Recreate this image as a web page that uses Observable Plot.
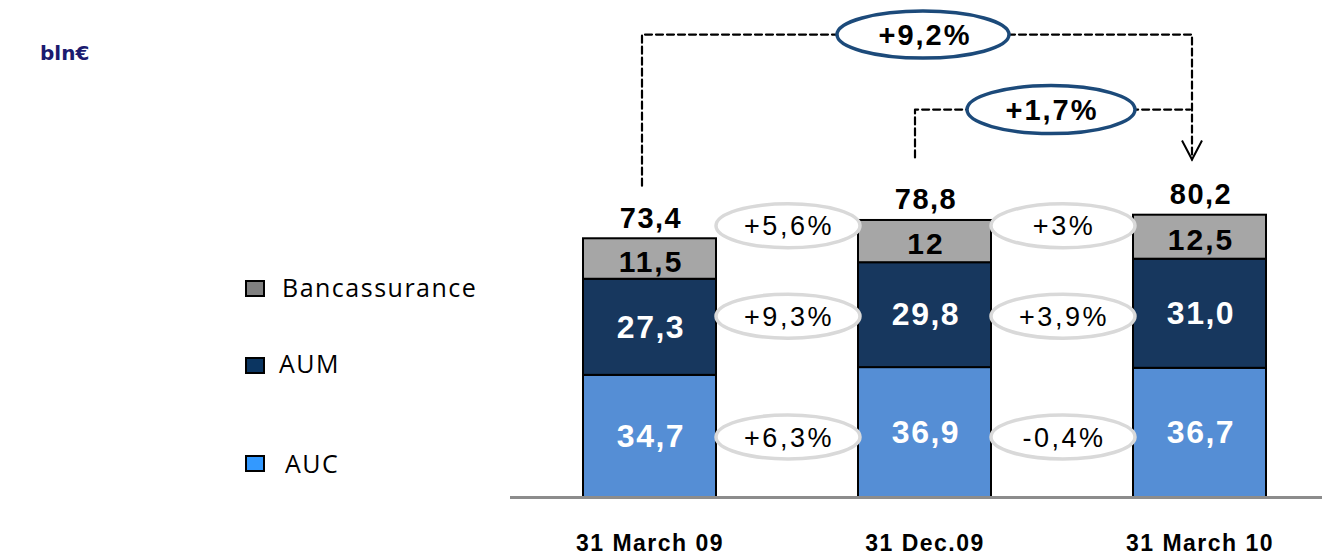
<!DOCTYPE html>
<html><head><meta charset="utf-8">
<script src="https://cdn.jsdelivr.net/npm/d3@7"></script>
<script src="https://cdn.jsdelivr.net/npm/@observablehq/plot@0.6"></script>
<style>
body{margin:0;background:#fff;}
#wrap{position:relative;width:1322px;height:555px;overflow:hidden;}
.leg{position:absolute;font-family:"Open Sans",sans-serif;font-size:25px;line-height:25px;letter-spacing:1.5px;color:#000;white-space:nowrap}
.sw{position:absolute;box-sizing:border-box;width:20px;height:17px;border:2px solid #000;}
#unit{position:absolute;left:40px;top:43px;font-family:"DejaVu Sans",sans-serif;font-weight:bold;font-size:20px;line-height:20px;color:#1b1b6f;white-space:nowrap}
</style></head><body><div id="wrap"></div>
<script>
// ---- data ----
const dates = ["31 March 09", "31 Dec.09", "31 March 10"];
const series = ["AUC", "AUM", "Bancassurance"];
const auc = [34.7, 36.9, 36.7];
const aum = [27.3, 29.8, 31.0];
const banc = [11.5, 12.0, 12.5];
const aucLabels = ["34,7", "36,9", "36,7"];
const aumLabels = ["27,3", "29,8", "31,0"];
const bancLabels = ["11,5", "12", "12,5"];
const totals = [73.4, 78.8, 80.2];
const totalLabels = ["73,4", "78,8", "80,2"];
const growthBanc = ["+5,6%", "+3%"];
const growthAum = ["+9,3%", "+3,9%"];
const growthAuc = ["+6,3%", "-0,4%"];
const growthYear = "+9,2%";   // 31 March 09 -> 31 March 10
const growthQuarter = "+1,7%"; // 31 Dec.09 -> 31 March 10
const colors = ["#558ed5", "#17375e", "#a6a6a6"];
const legendColors = ["#3399ff", "#0b3561", "#808080"];

// ---- tables built from the arrays ----
const rows = [];
dates.forEach((d, i) => {
  rows.push({date: d, series: "AUC", value: auc[i], label: aucLabels[i]});
  rows.push({date: d, series: "AUM", value: aum[i], label: aumLabels[i]});
  rows.push({date: d, series: "Bancassurance", value: banc[i], label: bancLabels[i]});
});
const totalRows = dates.map((d, i) => ({date: d, total: totals[i], label: totalLabels[i]}));

// annotation anchors (in value units)
const rowY = {Bancassurance: 77.2, AUM: 51.5, AUC: 17.2};
const growthRows = [];
[growthBanc, growthAum, growthAuc].forEach((arr, k) => {
  const s = ["Bancassurance", "AUM", "AUC"][k];
  arr.forEach((g, i) => growthRows.push({date: dates[i], y: rowY[s], label: g}));
});
const levelA = 131.5, levelB = 110.2, startA = 88.6, startB = 96.6, tipY = 96.0;
const bracketA = [
  {x: dates[0], y: startA}, {x: dates[0], y: levelA},
  {x: dates[2], y: levelA}, {x: dates[2], y: tipY}
];
const bracketB = [
  {x: dates[1], y: startB}, {x: dates[1], y: levelB}, {x: dates[2], y: levelB}
];

function ellipse(rx, ry) {
  return {draw(ctx) {
    const k = 0.5522848;
    ctx.moveTo(rx, 0);
    ctx.bezierCurveTo(rx, ry * k, rx * k, ry, 0, ry);
    ctx.bezierCurveTo(-rx * k, ry, -rx, ry * k, -rx, 0);
    ctx.bezierCurveTo(-rx, -ry * k, -rx * k, -ry, 0, -ry);
    ctx.bezierCurveTo(rx * k, -ry, rx, -ry * k, rx, 0);
    ctx.closePath();
  }};
}
const vArrow = {draw(ctx) { ctx.moveTo(-10, -19); ctx.lineTo(0, 0); ctx.lineTo(10, -19); }};

const font = "Liberation Sans, Arial, sans-serif";
const plot = Plot.plot({
  width: 1322,
  height: 555,
  marginLeft: 510,
  marginRight: 0,
  marginTop: 0,
  marginBottom: 58,
  style: {fontFamily: font, background: "transparent", overflow: "visible"},
  x: {type: "band", domain: dates, range: [582, 1267], paddingInner: 0.518, paddingOuter: 0, axis: null},
  y: {domain: [0, 100], range: [497, 145], axis: null},
  color: {domain: series, range: colors},
  marks: [
    Plot.barY(rows, {x: "date", y: "value", fill: "series", stroke: "#000", strokeWidth: 2}),
    Plot.ruleY([0], {stroke: "#8c8c8c", strokeWidth: 3}),
    Plot.text(rows, Plot.stackY({x: "date", y: "value", text: d => d.series === "Bancassurance" ? null : d.label,
      fill: "white", fontSize: 32, fontWeight: "bold", dx: 1})),
    Plot.text(rows, Plot.stackY({x: "date", y: "value", text: d => d.series === "Bancassurance" ? d.label : null,
      fill: "black", fontSize: 30, fontWeight: "bold", dx: 1, dy: 3})),
    Plot.text(totalRows, {x: "date", y: "total", text: "label", dy: -20, dx: 1, fontSize: 29, fontWeight: "bold", fill: "black"}),
    Plot.line(bracketA, {x: "x", y: "y", stroke: "#000", strokeWidth: 2.2, strokeDasharray: "7,4", dx: -8}),
    Plot.line(bracketB, {x: "x", y: "y", stroke: "#000", strokeWidth: 2.2, strokeDasharray: "7,4", dx: -10}),
    Plot.dot([{x: dates[2], y: tipY}], {x: "x", y: "y", symbol: vArrow, fill: "none", stroke: "#000", strokeWidth: 2, dx: -8}),
    Plot.dot([{x: dates[1], y: levelA}], {x: "x", y: "y", symbol: ellipse(86, 23.5), fill: "white", stroke: "#1c4a7a", strokeWidth: 3.5, dx: -2}),
    Plot.text([{x: dates[1], y: levelA, t: growthYear}], {x: "x", y: "y", text: "t", fontSize: 29, fontWeight: "bold", fill: "#000", dx: 0, dy: 1}),
    Plot.dot([{x: dates[1], y: levelB}], {x: "x", y: "y", symbol: ellipse(84, 24), fill: "white", stroke: "#1c4a7a", strokeWidth: 3.5, dx: 126}),
    Plot.text([{x: dates[1], y: levelB, t: growthQuarter}], {x: "x", y: "y", text: "t", fontSize: 29, fontWeight: "bold", fill: "#000", dx: 127, dy: 1}),
    Plot.dot(growthRows, {x: "date", y: "y", symbol: ellipse(72, 22), fill: "white", stroke: "#d9d9d9", strokeWidth: 3.5, dx: 138}),
    Plot.text(growthRows, {x: "date", y: "y", text: "label", fontSize: 27, fill: "#000", dx: 139, dy: 1}),
    Plot.axisX({tickSize: 0, tickPadding: 37, fontSize: 23, fontWeight: "bold", label: null})
  ]
});

// widen text spacing to match the reference's wide lettering
const spacing = new Map();
[...growthBanc, ...growthAum, ...growthAuc].forEach(t => spacing.set(t, "2.5px"));
[growthYear, growthQuarter].forEach(t => spacing.set(t, "2px"));
[...aucLabels, ...aumLabels].forEach(t => spacing.set(t, "1.5px"));
bancLabels.forEach(t => spacing.set(t, "2px"));
totalLabels.forEach(t => spacing.set(t, "1.5px"));
dates.forEach(t => spacing.set(t, "1.5px"));
d3.select(plot).selectAll("text").each(function() {
  const s = spacing.get(this.textContent);
  if (s) this.style.letterSpacing = s;
});

const wrap = document.getElementById("wrap");
wrap.appendChild(plot);
plot.style.position = "absolute";
plot.style.left = "0px";
plot.style.top = "0px";

// unit label
const unit = document.createElement("div");
unit.id = "unit";
unit.textContent = "bln€";
wrap.appendChild(unit);

// legend (top to bottom: Bancassurance, AUM, AUC)
const legendItems = [
  {name: "Bancassurance", color: legendColors[2], swTop: 280, textLeft: 282, textTop: 275},
  {name: "AUM", color: legendColors[1], swTop: 357, textLeft: 279, textTop: 351},
  {name: "AUC", color: legendColors[0], swTop: 455, textLeft: 285, textTop: 451}
];
legendItems.forEach(it => {
  const sw = document.createElement("div");
  sw.className = "sw";
  sw.style.left = "245px";
  sw.style.top = it.swTop + "px";
  sw.style.background = it.color;
  wrap.appendChild(sw);
  const t = document.createElement("div");
  t.className = "leg";
  t.style.left = it.textLeft + "px";
  t.style.top = it.textTop + "px";
  t.textContent = it.name;
  wrap.appendChild(t);
});
</script>
</body></html>
